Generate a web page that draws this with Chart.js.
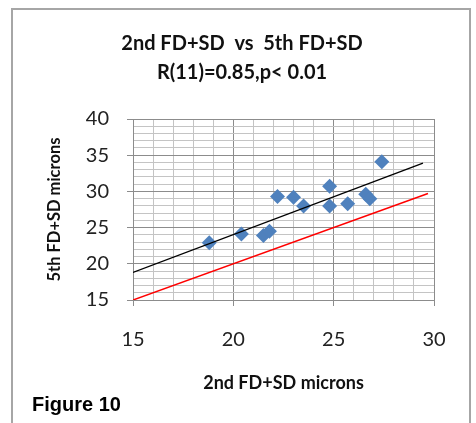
<!DOCTYPE html>
<html>
<head>
<meta charset="utf-8">
<script src="https://cdn.jsdelivr.net/npm/chart.js@4/dist/chart.umd.min.js"></script>
<style>
    html, body { margin: 0; padding: 0; background: #fff; }
    #wrap { position: relative; width: 476px; height: 423px; overflow: hidden; }
    #frame { position: absolute; left: 11px; top: 8px; width: 460px; height: 430px; border: 2px solid #a6a6a6; box-sizing: border-box; }
    #fig { position: absolute; left: 32px; top: 393px; font: bold 20px "Liberation Sans", Arial, sans-serif; line-height: 23px; color: #000; }
    canvas { position: absolute; left: 0; top: 0; }
</style>
</head>
<body>
<div id="wrap">
    <div id="frame"></div>
    <canvas id="chart" width="476" height="423"></canvas>
    <div id="fig">Figure 10</div>
</div>
<script>
'use strict';

// измерения: 2nd FD+SD (x) и 5th FD+SD (y), мкм
const secondFD = [18.8, 20.4, 21.5, 21.8, 22.2, 23.0, 23.5, 24.8, 24.8, 25.7, 26.6, 26.8, 27.4];
const fifthFD  = [22.9, 24.1, 23.9, 24.5, 29.3, 29.2, 28.0, 30.7, 28.0, 28.3, 29.6, 29.0, 34.1];

// линия тренда и линия равенства (концы)
const trendX = [15, 29.45];
const trendY = [18.8, 33.9];
const equalX = [15, 29.7];
const equalY = [15, 29.7];

const titleLines = ['2nd FD+SD  vs  5th FD+SD', 'R(11)=0.85,p< 0.01'];
const xTitle = '2nd FD+SD microns';
const yTitle = '5th FD+SD microns';

function toPoints(xs, ys) {
    let pts = [];
    for (let i = 0; i < xs.length; i++)
        pts.push({x: xs[i], y: ys[i]});
    return pts;
}

const font = '"Lato", "Open Sans", sans-serif';
const isMajor = v => Math.abs(v % 5) < 1e-6;

function gridFor() {
    return {
        color: c => isMajor(c.tick.value) ? '#8c8c8c' : '#c4c4c4',
        tickColor: c => isMajor(c.tick.value) ? '#8c8c8c' : 'rgba(0,0,0,0)',
        lineWidth: 1,
        tickLength: 6
    };
}

new Chart(document.getElementById('chart'), {
    type: 'scatter',
    data: {
        datasets: [{
            data: toPoints(trendX, trendY),
            showLine: true,
            borderColor: '#000',
            borderWidth: 1.3,
            pointRadius: 0,
            order: 0
        }, {
            data: toPoints(equalX, equalY),
            showLine: true,
            borderColor: '#ff0000',
            borderWidth: 1.5,
            pointRadius: 0,
            order: 0
        }, {
            data: toPoints(secondFD, fifthFD),
            pointStyle: 'rectRot',
            pointRadius: 7.5,
            backgroundColor: '#4f81bd',
            borderColor: '#4f81bd',
            borderWidth: 0,
            order: 1
        }]
    },
    options: {
        responsive: false,
        animation: false,
        layout: { padding: { left: 12, right: 4, top: 10, bottom: 0 } },
        plugins: {
            legend: { display: false },
            tooltip: { enabled: false },
            title: {
                display: true,
                text: titleLines,
                color: '#111',
                font: { family: font, size: 20, weight: 'bold', lineHeight: 1.45 },
                padding: { top: 19.5, bottom: 31.5 }
            }
        },
        scales: {
            x: {
                type: 'linear',
                min: 15, max: 30,
                grid: gridFor(),
                border: { color: '#8c8c8c', width: 1 },
                ticks: {
                    stepSize: 1, autoSkip: false, maxRotation: 0,
                    color: '#222', padding: 22,
                    font: { family: font, size: 20 },
                    callback: v => isMajor(v) ? v : ''
                },
                title: {
                    display: true, text: xTitle, color: '#111',
                    font: { family: font, size: 18, weight: 'bold' },
                    padding: { top: 20, bottom: 29 }
                },
                afterFit: s => { s.height = 123; }
            },
            y: {
                type: 'linear',
                min: 15, max: 40,
                grid: gridFor(),
                border: { color: '#8c8c8c', width: 1 },
                ticks: {
                    stepSize: 1, autoSkip: false,
                    color: '#222', padding: 18,
                    font: { family: font, size: 20 },
                    callback: v => isMajor(v) ? v : ''
                },
                title: {
                    display: true, text: yTitle, color: '#111',
                    font: { family: font, size: 16.5, weight: 'bold' },
                    padding: { top: 33, bottom: 20 }
                },
                afterFit: s => { s.width = 121; }
            },
            // пустая ось справа, чтобы оставить поле до рамки
            spacer: {
                type: 'linear',
                position: 'right',
                grid: { display: false },
                border: { display: false },
                ticks: { display: false },
                afterFit: s => { s.width = 38; }
            }
        }
    }
});
</script>
</body>
</html>
